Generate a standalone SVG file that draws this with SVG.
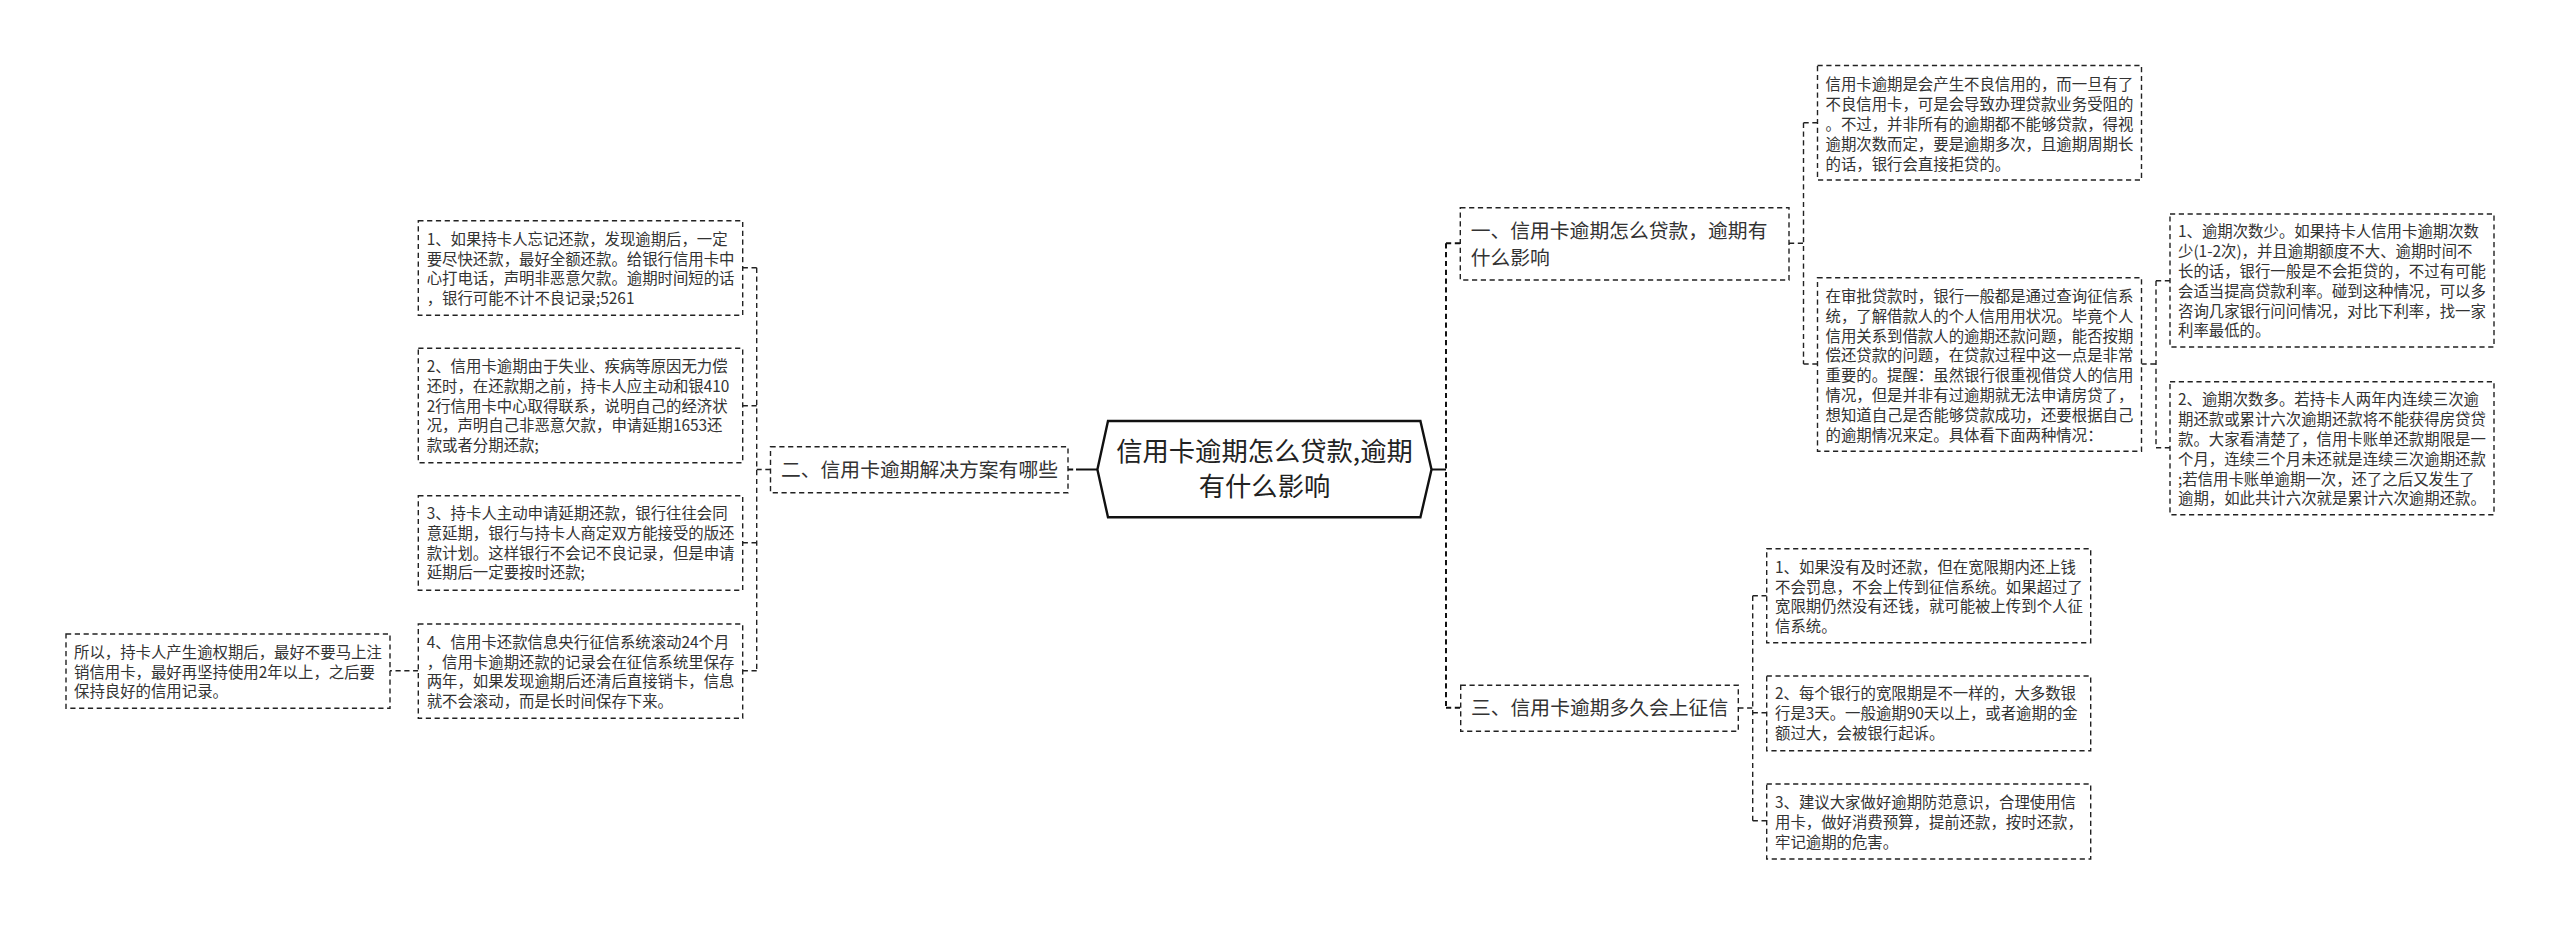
<svg xmlns="http://www.w3.org/2000/svg" width="2560" height="925" viewBox="0 0 2560 925">
<style>
text{font-family:"Noto Sans CJK SC","Microsoft YaHei",sans-serif;fill:#333}
.t{font-size:15.4px}
.h{font-size:19.8px}
.c{font-size:26.3px;text-anchor:middle;fill:#222}
.b{fill:#fff;stroke:#222;stroke-width:1.4;stroke-dasharray:5.2 3.6}
.l{fill:none;stroke:#222;stroke-width:1.4;stroke-dasharray:5.2 3.6}
.s{fill:none;stroke:#111;stroke-width:2;stroke-dasharray:5.2 3.6}
</style>
<rect width="2560" height="925" fill="#fff"/>
<g id="connectors">
<path class="s" d="M1446 243.3V707.7"/>
<path d="M1431.5 469.5H1446" fill="none" stroke="#111" stroke-width="2"/>
<path class="s" d="M1446 243.3H1460.3M1446 707.7H1460.7"/>
<path d="M1097.4 469.5H1076" fill="none" stroke="#111" stroke-width="2"/>
<path class="s" d="M1068 469.5H1076"/>
<path class="l" d="M1789 243.3H1803.5M1803.5 122.7V364M1803.5 122.7H1817.5M1803.5 364H1817.5"/>
<path class="l" d="M2141.5 364H2156M2156 280.7V447.7M2156 280.7H2170M2156 447.7H2170"/>
<path class="l" d="M1738.3 708H1752.7M1752.7 595.7V820.7M1752.7 595.7H1766.7M1752.7 712.7H1766.7M1752.7 820.7H1766.7"/>
<path class="l" d="M770.5 469.5H756.7M756.7 267.7V670.7M742.7 267.7H756.7M742.7 405.7H756.7M742.7 542.7H756.7M742.7 670.7H756.7"/>
<path class="l" d="M418.3 670.7H390"/>
</g>
<g id="root">
<path d="M1097.4 469.5L1108 421H1420.4L1431.5 469.5L1420.4 517.3H1108Z" fill="#fff" stroke="#111" stroke-width="2.4"/>
<text class="c"><tspan x="1264.5" y="460.7">信用卡逾期怎么贷款,逾期</tspan><tspan x="1264.5" y="496">有什么影响</tspan></text>
</g>
<g id="topic1">
<rect class="b" x="1460.3" y="207.7" width="328.7" height="72.3"/>
<text class="h"><tspan x="1470.7" y="237.7">一、信用卡逾期怎么贷款&#xFF0C;逾期有</tspan><tspan x="1470.7" y="264.7">什么影响</tspan></text>
</g>
<g id="topic2">
<rect class="b" x="770.5" y="446.7" width="297.5" height="46"/>
<text class="h" x="781" y="477">二、信用卡逾期解决方案有哪些</text>
</g>
<g id="topic3">
<rect class="b" x="1460.7" y="685.3" width="277.6" height="46"/>
<text class="h" x="1471" y="715">三、信用卡逾期多久会上征信</text>
</g>
<g id="a1">
<rect class="b" x="1817.5" y="65.5" width="324" height="114.5"/>
<text class="t"><tspan x="1825.5" y="90.4">信用卡逾期是会产生不良信用的&#xFF0C;而一旦有了</tspan><tspan x="1825.5" dy="19.8">不良信用卡&#xFF0C;可是会导致办理贷款业务受阻的</tspan><tspan x="1825.5" dy="19.8">。不过&#xFF0C;并非所有的逾期都不能够贷款&#xFF0C;得视</tspan><tspan x="1825.5" dy="19.8">逾期次数而定&#xFF0C;要是逾期多次&#xFF0C;且逾期周期长</tspan><tspan x="1825.5" dy="19.8">的话&#xFF0C;银行会直接拒贷的。</tspan></text>
</g>
<g id="a2">
<rect class="b" x="1817.5" y="277.7" width="324" height="173.5"/>
<text class="t"><tspan x="1825.5" y="302">在审批贷款时&#xFF0C;银行一般都是通过查询征信系</tspan><tspan x="1825.5" dy="19.8">统&#xFF0C;了解借款人的个人信用用状况。毕竟个人</tspan><tspan x="1825.5" dy="19.8">信用关系到借款人的逾期还款问题&#xFF0C;能否按期</tspan><tspan x="1825.5" dy="19.8">偿还贷款的问题&#xFF0C;在贷款过程中这一点是非常</tspan><tspan x="1825.5" dy="19.8">重要的。提醒&#xFF1A;虽然银行很重视借贷人的信用</tspan><tspan x="1825.5" dy="19.8">情况&#xFF0C;但是并非有过逾期就无法申请房贷了&#xFF0C;</tspan><tspan x="1825.5" dy="19.8">想知道自己是否能够贷款成功&#xFF0C;还要根据自己</tspan><tspan x="1825.5" dy="19.8">的逾期情况来定。具体看下面两种情况&#xFF1A;</tspan></text>
</g>
<g id="r1">
<rect class="b" x="2170" y="214" width="324" height="133"/>
<text class="t"><tspan x="2178" y="237.4">1、逾期次数少。如果持卡人信用卡逾期次数</tspan><tspan x="2178" dy="19.8">少(1-2次)&#xFF0C;并且逾期额度不大、逾期时间不</tspan><tspan x="2178" dy="19.8">长的话&#xFF0C;银行一般是不会拒贷的&#xFF0C;不过有可能</tspan><tspan x="2178" dy="19.8">会适当提高贷款利率。碰到这种情况&#xFF0C;可以多</tspan><tspan x="2178" dy="19.8">咨询几家银行问问情况&#xFF0C;对比下利率&#xFF0C;找一家</tspan><tspan x="2178" dy="19.8">利率最低的。</tspan></text>
</g>
<g id="r2">
<rect class="b" x="2170" y="381.7" width="324" height="133"/>
<text class="t"><tspan x="2178" y="405.4">2、逾期次数多。若持卡人两年内连续三次逾</tspan><tspan x="2178" dy="19.8">期还款或累计六次逾期还款将不能获得房贷贷</tspan><tspan x="2178" dy="19.8">款。大家看清楚了&#xFF0C;信用卡账单还款期限是一</tspan><tspan x="2178" dy="19.8">个月&#xFF0C;连续三个月未还就是连续三次逾期还款</tspan><tspan x="2178" dy="19.8">;若信用卡账单逾期一次&#xFF0C;还了之后又发生了</tspan><tspan x="2178" dy="19.8">逾期&#xFF0C;如此共计六次就是累计六次逾期还款。</tspan></text>
</g>
<g id="m1">
<rect class="b" x="1766.7" y="548.7" width="324" height="94"/>
<text class="t"><tspan x="1775" y="572.7">1、如果没有及时还款&#xFF0C;但在宽限期内还上钱</tspan><tspan x="1775" dy="19.8">不会罚息&#xFF0C;不会上传到征信系统。如果超过了</tspan><tspan x="1775" dy="19.8">宽限期仍然没有还钱&#xFF0C;就可能被上传到个人征</tspan><tspan x="1775" dy="19.8">信系统。</tspan></text>
</g>
<g id="m2">
<rect class="b" x="1766.7" y="676" width="324" height="74.7"/>
<text class="t"><tspan x="1775" y="699.4">2、每个银行的宽限期是不一样的&#xFF0C;大多数银</tspan><tspan x="1775" dy="19.8">行是3天。一般逾期90天以上&#xFF0C;或者逾期的金</tspan><tspan x="1775" dy="19.8">额过大&#xFF0C;会被银行起诉。</tspan></text>
</g>
<g id="m3">
<rect class="b" x="1766.7" y="784" width="324" height="75"/>
<text class="t"><tspan x="1775" y="808">3、建议大家做好逾期防范意识&#xFF0C;合理使用信</tspan><tspan x="1775" dy="19.8">用卡&#xFF0C;做好消费预算&#xFF0C;提前还款&#xFF0C;按时还款&#xFF0C;</tspan><tspan x="1775" dy="19.8">牢记逾期的危害。</tspan></text>
</g>
<g id="l1">
<rect class="b" x="418.3" y="220.7" width="324.4" height="94.6"/>
<text class="t"><tspan x="426.7" y="244.7">1、如果持卡人忘记还款&#xFF0C;发现逾期后&#xFF0C;一定</tspan><tspan x="426.7" dy="19.8">要尽快还款&#xFF0C;最好全额还款。给银行信用卡中</tspan><tspan x="426.7" dy="19.8">心打电话&#xFF0C;声明非恶意欠款。逾期时间短的话</tspan><tspan x="426.7" dy="19.8">&#xFF0C;银行可能不计不良记录;5261</tspan></text>
</g>
<g id="l2">
<rect class="b" x="418.3" y="348.3" width="324.4" height="114.4"/>
<text class="t"><tspan x="426.7" y="372">2、信用卡逾期由于失业、疾病等原因无力偿</tspan><tspan x="426.7" dy="19.8">还时&#xFF0C;在还款期之前&#xFF0C;持卡人应主动和银410</tspan><tspan x="426.7" dy="19.8">2行信用卡中心取得联系&#xFF0C;说明自己的经济状</tspan><tspan x="426.7" dy="19.8">况&#xFF0C;声明自己非恶意欠款&#xFF0C;申请延期1653还</tspan><tspan x="426.7" dy="19.8">款或者分期还款;</tspan></text>
</g>
<g id="l3">
<rect class="b" x="418.3" y="495.7" width="324.4" height="94.6"/>
<text class="t"><tspan x="426.7" y="519">3、持卡人主动申请延期还款&#xFF0C;银行往往会同</tspan><tspan x="426.7" dy="19.8">意延期&#xFF0C;银行与持卡人商定双方能接受的版还</tspan><tspan x="426.7" dy="19.8">款计划。这样银行不会记不良记录&#xFF0C;但是申请</tspan><tspan x="426.7" dy="19.8">延期后一定要按时还款;</tspan></text>
</g>
<g id="l4">
<rect class="b" x="418.3" y="624" width="324.4" height="94.3"/>
<text class="t"><tspan x="426.7" y="647.7">4、信用卡还款信息央行征信系统滚动24个月</tspan><tspan x="426.7" dy="19.8">&#xFF0C;信用卡逾期还款的记录会在征信系统里保存</tspan><tspan x="426.7" dy="19.8">两年&#xFF0C;如果发现逾期后还清后直接销卡&#xFF0C;信息</tspan><tspan x="426.7" dy="19.8">就不会滚动&#xFF0C;而是长时间保存下来。</tspan></text>
</g>
<g id="l5">
<rect class="b" x="66" y="634" width="324" height="74.3"/>
<text class="t"><tspan x="74" y="657.7">所以&#xFF0C;持卡人产生逾权期后&#xFF0C;最好不要马上注</tspan><tspan x="74" dy="19.8">销信用卡&#xFF0C;最好再坚持使用2年以上&#xFF0C;之后要</tspan><tspan x="74" dy="19.8">保持良好的信用记录。</tspan></text>
</g>
</svg>
